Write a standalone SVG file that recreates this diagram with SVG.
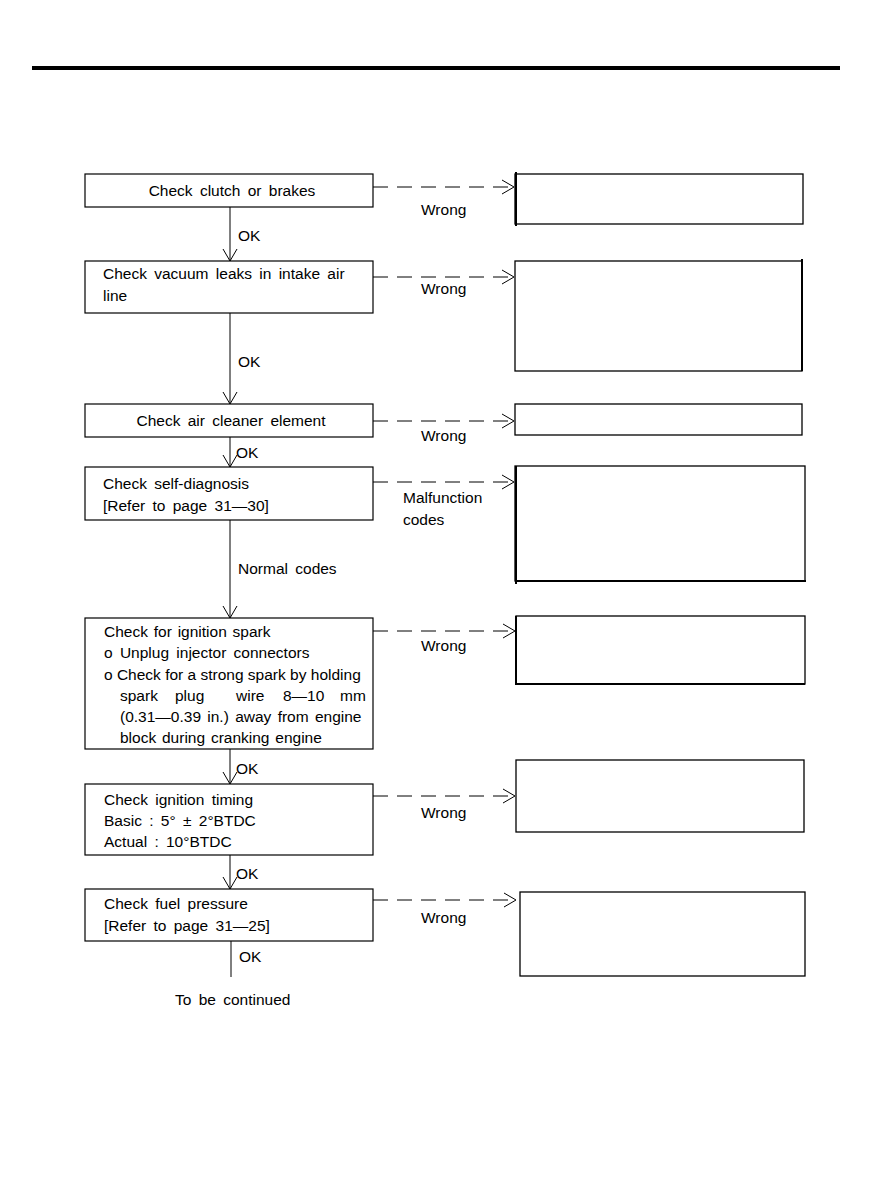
<svg xmlns="http://www.w3.org/2000/svg" width="888" height="1199" viewBox="0 0 888 1199">
<style>
.box{fill:#fff;stroke:#000;stroke-width:1.2}
.rbox{fill:#fff;stroke:#000;stroke-width:1.3}
.t{font-family:"Liberation Sans",Arial,sans-serif;font-size:15.5px;fill:#000;word-spacing:3px}
.c{text-anchor:middle}
.ok{stroke:#000;stroke-width:1;fill:none}
.dash{stroke:#000;stroke-width:1;stroke-dasharray:15 9;fill:none}
</style>
<defs>
<marker id="v" markerWidth="16" markerHeight="16" refX="13" refY="8" orient="auto" markerUnits="userSpaceOnUse">
<path d="M1,1 L13,8 L1,15" fill="none" stroke="#000" stroke-width="1"/>
</marker>
</defs>
<rect x="32" y="66" width="808" height="4" fill="#000"/>

<g id="n1"><rect class="box" x="85" y="174" width="288" height="33"/><text class="t c" x="232" y="196">Check clutch or brakes</text></g>
<g id="n2"><rect class="box" x="85" y="261" width="288" height="52"/><text class="t" x="103" y="279">Check vacuum leaks in intake air</text><text class="t" x="103" y="301">line</text></g>
<g id="n3"><rect class="box" x="85" y="404" width="288" height="33"/><text class="t c" x="231" y="426">Check air cleaner element</text></g>
<g id="n4"><rect class="box" x="85" y="467" width="288" height="53"/><text class="t" x="103" y="489">Check self-diagnosis</text><text class="t" x="103" y="511">[Refer to page 31—30]</text></g>
<g id="n5"><rect class="box" x="85" y="618" width="288" height="131"/>
<text class="t" x="104" y="637" style="word-spacing:1.5px">Check for ignition spark</text>
<text class="t" x="104" y="658">o Unplug injector connectors</text>
<text class="t" x="104" y="680" style="word-spacing:0">o Check for a strong spark by holding</text>
<text class="t" x="120" y="701">spark</text><text class="t" x="175" y="701">plug</text><text class="t" x="236" y="701">wire</text><text class="t" x="283" y="701">8—10</text><text class="t" x="340" y="701">mm</text>
<text class="t" x="120" y="722" style="word-spacing:2px">(0.31—0.39 in.) away from engine</text>
<text class="t" x="120" y="743" style="word-spacing:1.5px">block during cranking engine</text></g>
<g id="n6"><rect class="box" x="85" y="784" width="288" height="71"/><text class="t" x="104" y="805">Check ignition timing</text><text class="t" x="104" y="826">Basic : 5° ± 2°BTDC</text><text class="t" x="104" y="847">Actual : 10°BTDC</text></g>
<g id="n7"><rect class="box" x="85" y="889" width="288" height="52"/><text class="t" x="104" y="909">Check fuel pressure</text><text class="t" x="104" y="931">[Refer to page 31—25]</text></g>

<g id="r1"><rect class="rbox" x="515" y="174" width="288" height="50"/><line x1="516" y1="172" x2="516" y2="226" stroke="#000" stroke-width="2"/></g>
<g id="r2"><rect class="rbox" x="515" y="261" width="287" height="110"/><line x1="802" y1="259" x2="802" y2="371" stroke="#000" stroke-width="2"/></g>
<g id="r3"><rect class="rbox" x="515" y="404" width="287" height="31"/></g>
<g id="r4"><rect class="rbox" x="515" y="466" width="290" height="115"/><line x1="516" y1="466" x2="516" y2="584" stroke="#000" stroke-width="2"/><line x1="515" y1="581" x2="806" y2="581" stroke="#000" stroke-width="2"/></g>
<g id="r5"><rect class="rbox" x="516" y="616" width="289" height="68"/><line x1="516" y1="616" x2="516" y2="685" stroke="#000" stroke-width="2"/><line x1="516" y1="684" x2="805" y2="684" stroke="#000" stroke-width="2"/></g>
<g id="r6"><rect class="rbox" x="516" y="760" width="288" height="72"/></g>
<g id="r7"><rect class="rbox" x="520" y="892" width="285" height="84" stroke-width="2"/></g>

<g id="connectors">
<line class="ok" x1="230" y1="207" x2="230" y2="261" marker-end="url(#v)"/>
<line class="ok" x1="230" y1="313" x2="230" y2="404" marker-end="url(#v)"/>
<line class="ok" x1="230" y1="437" x2="230" y2="467" marker-end="url(#v)"/>
<line class="ok" x1="230" y1="520" x2="230" y2="618" marker-end="url(#v)"/>
<line class="ok" x1="230" y1="749" x2="230" y2="784" marker-end="url(#v)"/>
<line class="ok" x1="230" y1="855" x2="230" y2="889" marker-end="url(#v)"/>
<line class="ok" x1="231" y1="941" x2="231" y2="977"/>
<line class="dash" x1="373" y1="187" x2="514" y2="187" marker-end="url(#v)"/>
<line class="dash" x1="373" y1="277" x2="514" y2="277" marker-end="url(#v)"/>
<line class="dash" x1="373" y1="421" x2="514" y2="421" marker-end="url(#v)"/>
<line class="dash" x1="373" y1="482" x2="514" y2="482" marker-end="url(#v)"/>
<line class="dash" x1="373" y1="631" x2="515" y2="631" marker-end="url(#v)"/>
<line class="dash" x1="373" y1="796" x2="515" y2="796" marker-end="url(#v)"/>
<line class="dash" x1="373" y1="900" x2="516" y2="900" marker-end="url(#v)"/>
<text class="t" x="238" y="241">OK</text>
<text class="t" x="238" y="367">OK</text>
<text class="t" x="236" y="458">OK</text>
<text class="t" x="238" y="574">Normal codes</text>
<text class="t" x="236" y="774">OK</text>
<text class="t" x="236" y="879">OK</text>
<text class="t" x="239" y="962">OK</text>
<text class="t" x="421" y="215">Wrong</text>
<text class="t" x="421" y="294">Wrong</text>
<text class="t" x="421" y="441">Wrong</text>
<text class="t" x="403" y="503">Malfunction</text>
<text class="t" x="403" y="525">codes</text>
<text class="t" x="421" y="651">Wrong</text>
<text class="t" x="421" y="818">Wrong</text>
<text class="t" x="421" y="923">Wrong</text>
<text class="t" x="175" y="1005">To be continued</text>
</g>
</svg>
